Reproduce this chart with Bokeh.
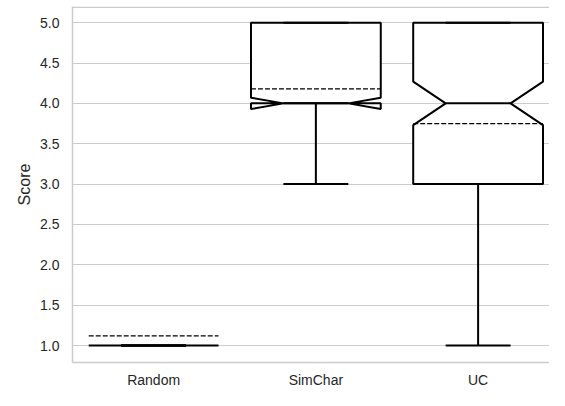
from bokeh.plotting import figure
from bokeh.models import FixedTicker, ColumnDataSource, Span
from bokeh.embed import file_html
from bokeh.resources import INLINE

# ---- data ----
categories = ["Random", "SimChar", "UC"]
q1 = [1.0, 4.0, 3.0]
median = [1.0, 4.0, 4.0]
q3 = [1.0, 5.0, 5.0]
whisker_lo = [1.0, 3.0, 1.0]
whisker_hi = [1.0, 5.0, 5.0]
notch_lo = [1.0, 3.93, 3.73]
notch_hi = [1.0, 4.07, 4.27]
means = [1.12, 4.18, 3.75]
y_ticks = [1.0, 1.5, 2.0, 2.5, 3.0, 3.5, 4.0, 4.5, 5.0]

BOX_HALF = 0.4
NOTCH_HALF = 0.2
CAP_HALF = 0.2
Y_LO, Y_HI = 0.79, 5.2

pos = list(range(len(categories)))

# notched box outlines
xs, ys = [], []
for i, c in enumerate(pos):
    L, R = c - BOX_HALF, c + BOX_HALF
    ml, mr = c - NOTCH_HALF, c + NOTCH_HALF
    xs.append([L, R, R, mr, R, R, L, L, ml, L])
    ys.append([q1[i], q1[i], notch_lo[i], median[i], notch_hi[i], q3[i], q3[i],
               notch_hi[i], median[i], notch_lo[i]])

FONT = "Liberation Sans"
TXT = "#262626"
GRID = "#cccccc"

p = figure(width=549, height=390, output_backend="svg", toolbar_location=None,
           x_range=(-0.5, 2.44), y_range=(Y_LO, Y_HI),
           min_border_left=72, min_border_right=0, min_border_top=6,
           min_border_bottom=26, background_fill_color="white",
           border_fill_color="white")

p.outline_line_color = None
p.xgrid.grid_line_color = None
p.ygrid.grid_line_color = GRID
p.ygrid.grid_line_width = 1.2
p.yaxis.ticker = FixedTicker(ticks=y_ticks)
p.xaxis.ticker = FixedTicker(ticks=pos)
p.xaxis.major_label_overrides = {i: c for i, c in enumerate(categories)}
p.yaxis.major_label_overrides = {t: f"{t:.1f}" for t in y_ticks}

for ax in (p.xaxis, p.yaxis):
    ax.axis_line_color = GRID
    ax.axis_line_width = 1.5
    ax.major_tick_line_color = None
    ax.minor_tick_line_color = None
    ax.major_tick_out = 0
    ax.minor_tick_out = 0
    ax.major_label_text_font = FONT
    ax.major_label_text_font_size = "14px"
    ax.major_label_text_color = TXT

p.xaxis.major_label_standoff = 9
p.yaxis.major_label_standoff = 13
p.yaxis.axis_label = "Score"
p.yaxis.axis_label_text_font = FONT
p.yaxis.axis_label_text_font_size = "16px"
p.yaxis.axis_label_text_font_style = "normal"
p.yaxis.axis_label_text_color = TXT
p.yaxis.axis_label_standoff = 4

# top spine (just inside the frame so it is not clipped)
p.add_layout(Span(location=Y_HI - 0.008, dimension="width", line_color=GRID, line_width=1.5))

p.patches(xs, ys, fill_color="white", line_color="black", line_width=2)

src = ColumnDataSource(dict(
    x=pos, q1=q1, q3=q3, lo=whisker_lo, hi=whisker_hi, med=median, mean=means,
    capl=[c - CAP_HALF for c in pos], capr=[c + CAP_HALF for c in pos],
    boxl=[c - BOX_HALF for c in pos], boxr=[c + BOX_HALF for c in pos],
))
p.segment("x", "q1", "x", "lo", source=src, line_color="black", line_width=2)
p.segment("x", "q3", "x", "hi", source=src, line_color="black", line_width=2)
p.segment("capl", "lo", "capr", "lo", source=src, line_color="black", line_width=2)
p.segment("capl", "hi", "capr", "hi", source=src, line_color="black", line_width=2)
p.segment("capl", "med", "capr", "med", source=src, line_color="black", line_width=2)
p.segment("boxl", "mean", "boxr", "mean", source=src, line_color="black",
          line_width=1.3, line_dash="5 2")

open("out.html", "w").write(file_html(p, INLINE))
